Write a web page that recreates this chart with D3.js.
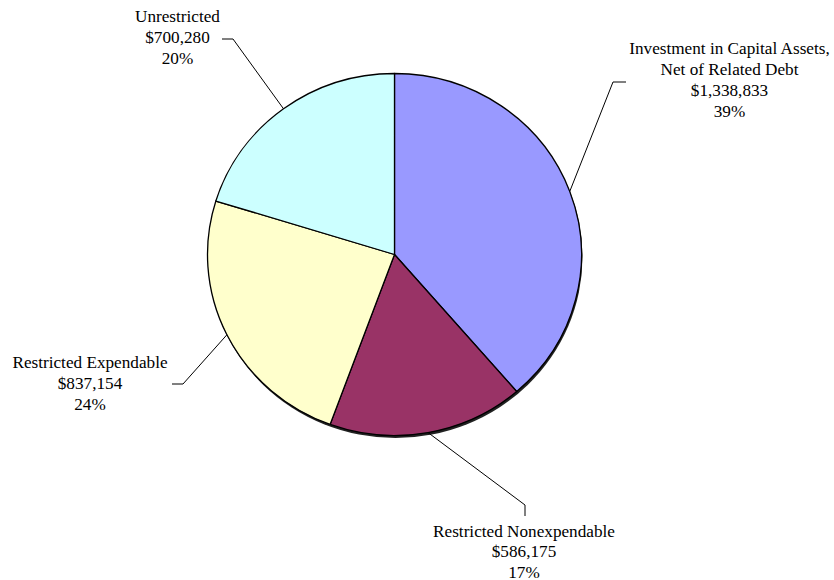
<!DOCTYPE html>
<html><head><meta charset="utf-8">
<script src="https://cdn.jsdelivr.net/npm/d3@7"></script>
<style>body{margin:0;background:#fff}svg{display:block}</style>
</head><body>
<svg id="chart" width="834" height="580"></svg>
<script>
const categories = ["Investment in Capital Assets,\nNet of Related Debt", "Restricted Nonexpendable", "Restricted Expendable", "Unrestricted"];
const values = [1338833, 586175, 837154, 700280];
const valueLabels = ["$1,338,833", "$586,175", "$837,154", "$700,280"];
const percentLabels = ["39%", "17%", "24%", "20%"];
const colors = ["#9999FF", "#993366", "#FFFFCC", "#CCFFFF"];

// layout
const cx = 394.5, cy = 254.5, rx = 187, ry = 181;
const labelLayout = [
  {x: 729.5, y: 54, elbow: [613, 82], stub: [626, 82]},
  {x: 524, y: 536.5, elbow: [525, 505], stub: [525, 516]},
  {x: 90, y: 368, elbow: [183, 384], stub: [172, 384]},
  {x: 177.5, y: 22, elbow: [233, 39], stub: [222, 39]}
];
const lineH = 21;

const svg = d3.select("#chart");
const pie = d3.pie().sort(null).value(d => d)(values);
const arc = d3.arc().innerRadius(0).outerRadius(rx);

// shadow
svg.append("ellipse").attr("cx", cx + 1).attr("cy", cy + 2.5).attr("rx", rx).attr("ry", ry)
  .attr("fill", "#222");

const g = svg.append("g").attr("transform", `translate(${cx},${cy}) scale(1,${ry/rx})`);
g.selectAll("path").data(pie).join("path")
  .attr("d", arc)
  .attr("fill", (d, i) => colors[i])
  .attr("stroke", "#000")
  .attr("stroke-width", 1.3)
  .attr("vector-effect", "non-scaling-stroke")
  .attr("stroke-linejoin", "round");

// leader lines
pie.forEach((d, i) => {
  const a = (d.startAngle + d.endAngle) / 2;
  const px = cx + rx * Math.sin(a), py = cy - ry * Math.cos(a);
  const L = labelLayout[i];
  svg.append("polyline")
    .attr("points", `${px},${py} ${L.elbow[0]},${L.elbow[1]} ${L.stub[0]},${L.stub[1]}`)
    .attr("fill", "none").attr("stroke", "#000").attr("stroke-width", 1);
});

// labels
categories.forEach((c, i) => {
  const lines = c.split("\n").concat([valueLabels[i], percentLabels[i]]);
  const L = labelLayout[i];
  const t = svg.append("text")
    .attr("font-family", "'Liberation Serif', 'Times New Roman', serif")
    .attr("font-size", 17.2)
    .attr("fill", "#000")
    .attr("text-anchor", "middle");
  lines.forEach((ln, j) => {
    t.append("tspan").attr("x", L.x).attr("y", L.y + j * (i === 1 ? 20.5 : lineH)).text(ln);
  });
});
</script>
</body></html>
